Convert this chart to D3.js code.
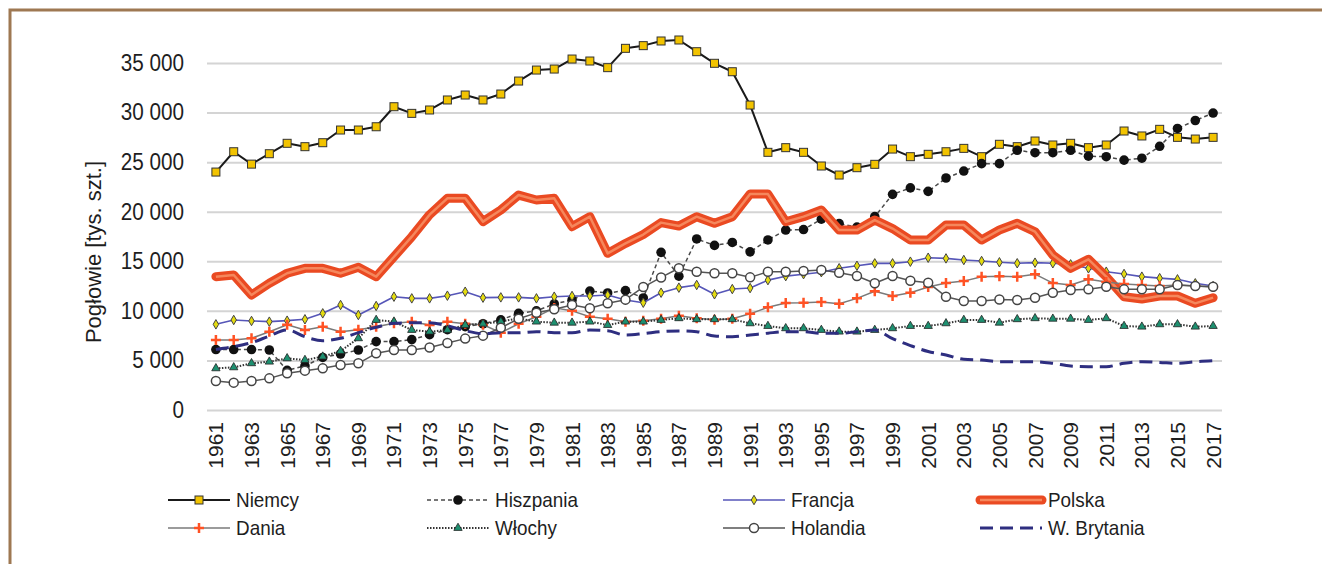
<!DOCTYPE html>
<html>
<head>
<meta charset="utf-8">
<script src="https://cdn.jsdelivr.net/npm/d3@7"></script>
<style>
  html, body { margin: 0; padding: 0; background: #fff; }
  svg { display: block; font-family: "Liberation Sans", Arial, sans-serif; }
</style>
</head>
<body>
<svg id="chart" width="1322" height="564"></svg>
<script>
// --- data (thousand heads), 1961..2017 ---
const years = d3.range(1961, 2018);
const yTickValues = [0, 5000, 10000, 15000, 20000, 25000, 30000, 35000];

const niemcy = [24000, 26050, 24800, 25850, 26900, 26560, 26960, 28240, 28240, 28570,
  30590, 29920, 30260, 31270, 31770, 31270, 31870, 33180, 34290, 34390,
  35400, 35200, 34530, 36480, 36750, 37220, 37320, 36140, 34970, 34120,
  30760, 25990, 26460, 25990, 24610, 23700, 24440, 24780, 26320, 25550,
  25790, 26050, 26390, 25550, 26800, 26560, 27130, 26730, 26900, 26460,
  26730, 28140, 27640, 28310, 27500, 27330, 27500];
const hiszpania = [6100, 6100, 6100, 6050, 4000, 4450, 5300, 5650, 6050, 6900,
  6900, 7100, 7600, 8100, 8400, 8700, 9100, 9750, 10000, 10700,
  11100, 12000, 11800, 12050, 11300, 15900, 13500, 17250, 16600, 16900,
  15950, 17150, 18150, 18200, 19250, 18800, 18450, 19500, 21750, 22400,
  22050, 23400, 24100, 24850, 24850, 26200, 25950, 25950, 26200, 25600,
  25550, 25200, 25400, 26600, 28400, 29200, 29950];
const francja = [8640, 9080, 8980, 8910, 9010, 9150, 9750, 10590, 9580, 10490,
  11430, 11260, 11260, 11530, 11930, 11330, 11360, 11360, 11260, 11430,
  11500, 11500, 11600, 11090, 10820, 11830, 12340, 12610, 11670, 12200,
  12300, 13100, 13500, 13700, 13900, 14300, 14550, 14790, 14790, 14960,
  15360, 15290, 15130, 15030, 14900, 14800, 14860, 14800, 14690, 14290,
  13950, 13720, 13450, 13300, 13180, 12780, 12500];
const polska = [13450, 13620, 11600, 12780, 13790, 14290, 14290, 13790, 14390, 13450,
  15460, 17480, 19700, 21350, 21350, 19000, 20170, 21680, 21180, 21350,
  18490, 19500, 15800, 16800, 17700, 18900, 18550, 19500, 18830, 19500,
  21780, 21780, 18990, 19500, 20170, 18150, 18150, 19160, 18300, 17150,
  17150, 18660, 18660, 17150, 18150, 18830, 17980, 15630, 14290, 15200,
  13450, 11430, 11200, 11500, 11500, 10760, 11330];
const dania = [7060, 7060, 7230, 7900, 8600, 8070, 8400, 7900, 8100, 8400,
  8740, 8910, 8570, 8900, 8700, 8600, 7800, 8700, 9400, 10300,
  10000, 9400, 9200, 8900, 9000, 9200, 9500, 9250, 9100, 9200,
  9700, 10360, 10800, 10820, 10900, 10720, 11260, 11980, 11500, 11830,
  12400, 12800, 13000, 13450, 13480, 13450, 13700, 12800, 12600, 13180,
  12900, 12700, 12600, 12500, 12600, 12500, 12400];
const wlochy = [4200, 4300, 4710, 4870, 5210, 5040, 5380, 5950, 7230, 9080,
  8910, 8070, 7900, 8070, 8570, 8700, 8910, 9250, 8910, 8800,
  8800, 8910, 8570, 8910, 8910, 9080, 9250, 9150, 9150, 9150,
  8740, 8470, 8240, 8240, 8070, 7900, 7900, 8070, 8240, 8470,
  8470, 8740, 9080, 9080, 8800, 9150, 9250, 9200, 9200, 9080,
  9250, 8470, 8400, 8640, 8640, 8400, 8470];
const holandia = [2920, 2760, 2920, 3190, 3700, 3970, 4200, 4540, 4710, 5720,
  6050, 6050, 6300, 6750, 7200, 7500, 8300, 9200, 9800, 10160,
  10600, 10260, 10760, 11130, 12400, 13370, 14300, 13950, 13800, 13790,
  13380, 13950, 13950, 14020, 14120, 13850, 13520, 12780, 13520, 13040,
  12840, 11430, 10990, 10990, 11150, 11090, 11330, 11830, 12100, 12170,
  12440, 12170, 12170, 12170, 12610, 12500, 12440];
const wBrytania = [6100, 6390, 6790, 7460, 8070, 7390, 6990, 7230, 7800, 8340,
  8740, 8800, 8800, 8500, 8000, 7700, 7800, 7800, 7900, 7800,
  7800, 8070, 8000, 7560, 7700, 7900, 7970, 7900, 7460, 7390,
  7560, 7750, 7900, 7900, 7730, 7730, 7900, 8070, 7200, 6500,
  5900, 5550, 5110, 5040, 4870, 4870, 4870, 4710, 4440, 4370,
  4370, 4710, 4870, 4800, 4710, 4870, 4970];

const seriesNames = ["Niemcy", "Hiszpania", "Francja", "Polska",
                     "Dania", "Włochy", "Holandia", "W. Brytania"];
const seriesValues = [niemcy, hiszpania, francja, polska, dania, wlochy, holandia, wBrytania];

// styles per series
const styles = [
  { stroke: "#1a1a1a", width: 2,   dash: null,    marker: "square" },
  { stroke: "#4a4a4a", width: 1.5, dash: "4,3",   marker: "dot" },
  { stroke: "#5656b8", width: 1.6, dash: null,    marker: "diamond" },
  { stroke: "#ea4a22", width: 9,   dash: null,    marker: null, thick: true },
  { stroke: "#7a7a7a", width: 1.5, dash: null,    marker: "plus" },
  { stroke: "#333333", width: 2,   dash: "1.5,1.5", marker: "triangle" },
  { stroke: "#555555", width: 1.5, dash: null,    marker: "ring" },
  { stroke: "#2e2e80", width: 3,   dash: "13,7",  marker: null, smooth: true }
];

const svg = d3.select("#chart");
const txt = "#1e1e1e";

// frame
svg.append("rect")
  .attr("x", 10).attr("y", 10).attr("width", 1400).attr("height", 700)
  .attr("fill", "none").attr("stroke", "#9e7852").attr("stroke-width", 3);

const x = d3.scalePoint().domain(years).range([207, 1222]).padding(0.5);
const y = d3.scaleLinear().domain([0, 35000]).range([410, 63]);

// gridlines
svg.append("g")
  .attr("transform", "translate(207,0)")
  .call(d3.axisLeft(y).tickValues(yTickValues).tickSize(-(1222 - 207)).tickFormat(""))
  .call(g => g.select(".domain").remove())
  .call(g => g.selectAll("line").attr("stroke", "#d4d4d4").attr("stroke-width", 2));

// y tick labels (condensed look)
const fmt = v => v === 0 ? "0" : d3.format(",")(v).replace(/,/g, " ");
svg.append("g").selectAll("text")
  .data(yTickValues).join("text")
  .attr("transform", d => `translate(184,${y(d)}) scale(0.9,1)`)
  .attr("text-anchor", "end")
  .attr("dominant-baseline", "central")
  .attr("font-size", 23)
  .attr("fill", txt)
  .text(fmt);

// x tick labels (every second year, vertical)
svg.append("g").selectAll("text")
  .data(years.filter((d, i) => i % 2 === 0)).join("text")
  .attr("transform", d => `translate(${x(d)},422) rotate(-90)`)
  .attr("text-anchor", "end")
  .attr("dominant-baseline", "central")
  .attr("font-size", 21)
  .attr("fill", txt)
  .text(d => d);

// y title
svg.append("text")
  .attr("transform", "translate(93,252) rotate(-90)")
  .attr("text-anchor", "middle")
  .attr("dominant-baseline", "central")
  .attr("font-size", 22)
  .attr("fill", txt)
  .text("Pogłowie [tys. szt.]");

function drawMarker(g, type) {
  if (type === "square") {
    g.append("rect").attr("x", -4).attr("y", -4).attr("width", 8).attr("height", 8)
      .attr("fill", "#f2c300").attr("stroke", "#333").attr("stroke-width", 1);
  } else if (type === "dot") {
    g.append("circle").attr("r", 4.8).attr("fill", "#111");
  } else if (type === "diamond") {
    g.append("path").attr("d", d3.symbol(d3.symbolDiamond, 26)())
      .attr("fill", "#e4dc10").attr("stroke", "#444").attr("stroke-width", 1);
  } else if (type === "plus") {
    g.append("path").attr("d", "M-5,0H5M0,-5V5")
      .attr("stroke", "#ff5224").attr("stroke-width", 2.5).attr("fill", "none");
  } else if (type === "triangle") {
    g.append("path").attr("d", d3.symbol(d3.symbolTriangle, 30)())
      .attr("fill", "#1d9070").attr("stroke", "#222").attr("stroke-width", 0.8);
  } else if (type === "ring") {
    g.append("circle").attr("r", 4.5).attr("fill", "#fff")
      .attr("stroke", "#444").attr("stroke-width", 1.5);
  }
}

const plot = svg.append("g");
seriesValues.forEach((vals, i) => {
  const st = styles[i];
  const pts = years.map((yr, j) => [x(yr), y(vals[j])]);
  const line = d3.line().curve(st.smooth ? d3.curveMonotoneX : d3.curveLinear);
  const g = plot.append("g");
  g.append("path")
    .attr("d", line(pts))
    .attr("fill", "none")
    .attr("stroke", st.stroke)
    .attr("stroke-width", st.width)
    .attr("stroke-dasharray", st.dash)
    .attr("stroke-linejoin", "round")
    .attr("stroke-linecap", st.thick ? "round" : "butt");
  if (st.thick) {
    g.append("path")
      .attr("d", line(pts))
      .attr("fill", "none")
      .attr("stroke", "#f5875c")
      .attr("stroke-width", 2.5)
      .attr("stroke-linejoin", "round");
  }
  if (st.marker) {
    g.selectAll("g.m").data(pts).join("g")
      .attr("class", "m")
      .attr("transform", d => `translate(${d[0]},${d[1]})`)
      .each(function () { drawMarker(d3.select(this), st.marker); });
  }
});

// legend
const legendCols = [168, 427, 723, 980];
const legendRows = [500, 528];
seriesNames.forEach((name, i) => {
  const st = styles[i];
  const lx = legendCols[i % 4], ly = legendRows[Math.floor(i / 4)];
  const g = svg.append("g").attr("transform", `translate(${lx},${ly})`);
  g.append("line")
    .attr("x1", 0).attr("x2", 62).attr("y1", 0).attr("y2", 0)
    .attr("stroke", st.stroke)
    .attr("stroke-width", st.width)
    .attr("stroke-dasharray", st.dash)
    .attr("stroke-linecap", st.thick ? "round" : "butt");
  if (st.thick) {
    g.append("line").attr("x1", 0).attr("x2", 62).attr("y1", 0).attr("y2", 0)
      .attr("stroke", "#f5875c").attr("stroke-width", 2.5);
  }
  if (st.marker) drawMarker(g.append("g").attr("transform", "translate(31,0)"), st.marker);
  g.append("text")
    .attr("transform", "translate(68,0) scale(0.9,1)")
    .attr("dominant-baseline", "central")
    .attr("font-size", 21)
    .attr("fill", txt)
    .text(name);
});
</script>
</body>
</html>
